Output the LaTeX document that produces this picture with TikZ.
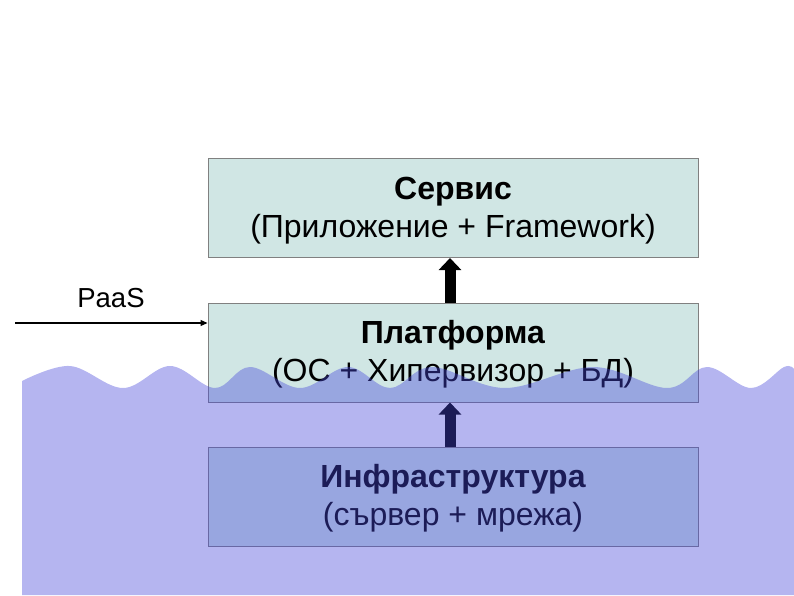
\documentclass[tikz,border=0pt]{standalone}
\usepackage{fontspec}
\setmainfont{Liberation Sans}
\usetikzlibrary{arrows.meta}
\definecolor{boxfill}{RGB}{208,230,228}
\definecolor{boxline}{RGB}{128,128,128}
\definecolor{water}{RGB}{70,70,218}
\begin{document}
\begin{tikzpicture}[x=1pt,y=-1pt,
  layerbox/.style={draw=boxline, fill=boxfill, line width=1pt,
    minimum width=490pt, minimum height=99pt, inner sep=0pt},
  layertext/.style={align=center, font=\fontsize{32}{38}\selectfont, inner sep=0pt},
  blockarrow/.style={line width=11pt, -{Triangle[width=22pt,length=12pt]}},
  paasarrow/.style={line width=1.2pt, -{Triangle[width=6pt,length=7pt]}},
  waterfill/.style={fill=water, opacity=0.4}]
\useasboundingbox (0,0) rectangle (794,595);
\node[layerbox] (serv) at (453,208) {};
\node[layerbox] (plat) at (453,352.5) {};
\node[layerbox] (infra) at (453,496.5) {};
\node[layertext] (servtext) at ([yshift=-3pt]serv.center) {\textbf{Сервис}\\(Приложение + Framework)};
\node[layertext] (plattext) at ([yshift=-2pt]plat.center) {\textbf{Платформа}\\(ОС + Хипервизор + БД)};
\node[layertext] (infratext) at ([yshift=-2pt]infra.center) {\textbf{Инфраструктура}\\(сървер + мрежа)};
\draw[blockarrow] ([xshift=-3pt]plat.north) -- ([xshift=-3pt]serv.south);
\draw[blockarrow] ([xshift=-3pt]infra.north) -- ([xshift=-3pt]plat.south);
\coordinate (paasstart) at (15,323);
\draw[paasarrow] (paasstart) -- (paasstart -| plat.west);
\node[font=\fontsize{27.5}{31}\selectfont] (paaslbl) at (111,298) {PaaS};
\fill[waterfill] plot[smooth, tension=0.6] coordinates {
  (22,381) (70,366) (123,388) (170,366) (215,388) (250,367) (300,388)
  (348,367) (390,388) (432,367) (505,388) (593,367) (667,388) (707,367)
  (751,388) (784,367) (794,369)} -- (794,595) -- (22,595) -- cycle;
\end{tikzpicture}
\end{document}
